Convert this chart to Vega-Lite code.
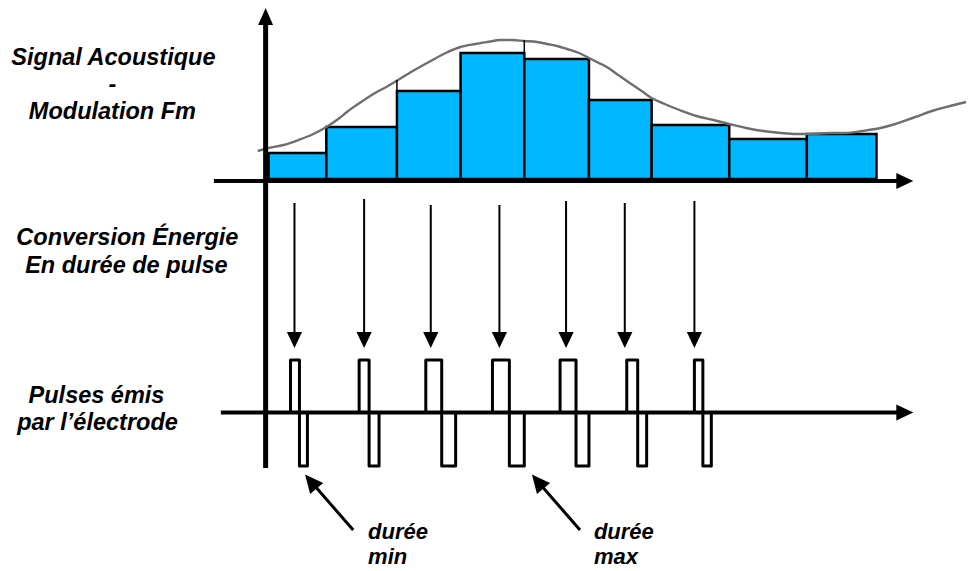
{
  "$schema": "https://vega.github.io/schema/vega-lite/v6.json",
  "width": 971,
  "height": 571,
  "autosize": {"type": "fit", "contains": "padding"},
  "padding": 0,
  "background": "white",
  "config": {"view": {"stroke": null}},
  "datasets": {
    "bars": [
      {"x": 270, "x2": 328, "y": 153, "y2": 179},
      {"x": 328, "x2": 399, "y": 127, "y2": 179},
      {"x": 399, "x2": 463, "y": 91, "y2": 179},
      {"x": 463, "x2": 527, "y": 53, "y2": 179},
      {"x": 527, "x2": 592, "y": 59, "y2": 179},
      {"x": 592, "x2": 655, "y": 100, "y2": 179},
      {"x": 655, "x2": 733, "y": 125, "y2": 179},
      {"x": 733, "x2": 811, "y": 139, "y2": 179},
      {"x": 811, "x2": 881, "y": 134, "y2": 179}
    ],
    "curve": [
      {"x": 259, "y": 151}, {"x": 270, "y": 148}, {"x": 285, "y": 145}, {"x": 300, "y": 140},
      {"x": 315, "y": 134}, {"x": 328, "y": 127}, {"x": 340, "y": 119}, {"x": 350, "y": 111},
      {"x": 363, "y": 102}, {"x": 377, "y": 93}, {"x": 390, "y": 86}, {"x": 400, "y": 80},
      {"x": 415, "y": 71}, {"x": 433, "y": 61}, {"x": 448, "y": 53}, {"x": 463, "y": 47},
      {"x": 478, "y": 44}, {"x": 490, "y": 42}, {"x": 503, "y": 40}, {"x": 515, "y": 40},
      {"x": 527, "y": 41}, {"x": 540, "y": 42}, {"x": 550, "y": 44}, {"x": 560, "y": 46},
      {"x": 570, "y": 49}, {"x": 582, "y": 53}, {"x": 592, "y": 58}, {"x": 600, "y": 62},
      {"x": 610, "y": 67}, {"x": 620, "y": 74}, {"x": 633, "y": 83}, {"x": 645, "y": 91},
      {"x": 655, "y": 98}, {"x": 668, "y": 104}, {"x": 683, "y": 110}, {"x": 700, "y": 116},
      {"x": 717, "y": 120}, {"x": 733, "y": 124}, {"x": 750, "y": 128}, {"x": 767, "y": 131},
      {"x": 785, "y": 133}, {"x": 800, "y": 134}, {"x": 815, "y": 134}, {"x": 833, "y": 133},
      {"x": 850, "y": 133}, {"x": 867, "y": 131}, {"x": 885, "y": 128}, {"x": 900, "y": 124},
      {"x": 920, "y": 117}, {"x": 940, "y": 110}, {"x": 955, "y": 106}, {"x": 971, "y": 102}
    ],
    "connectors": [
      {"x": 399, "y": 80, "y2": 91},
      {"x": 527, "y": 40, "y2": 53}
    ],
    "vaxis": [{"x": 267, "y": 22, "y2": 468}],
    "haxes": [
      {"x": 215, "x2": 904, "y": 181},
      {"x": 222, "x2": 904, "y": 412.5}
    ],
    "uphead": [{"x": 267, "y": 16.5}],
    "righthead": [{"x": 909.5, "y": 181}, {"x": 909.5, "y": 412.5}],
    "arrows": [
      {"x": 296, "y": 203, "y2": 334},
      {"x": 366, "y": 199, "y2": 334},
      {"x": 433, "y": 205, "y2": 334},
      {"x": 502, "y": 205, "y2": 334},
      {"x": 569, "y": 201, "y2": 334},
      {"x": 628, "y": 203, "y2": 334},
      {"x": 698, "y": 201, "y2": 334}
    ],
    "downhead": [
      {"x": 296, "y": 340}, {"x": 366, "y": 340}, {"x": 433, "y": 340}, {"x": 502, "y": 340},
      {"x": 569, "y": 340}, {"x": 628, "y": 340}, {"x": 698, "y": 340}
    ],
    "pulses": [
      {"p": 1, "i": 0, "x": 292, "y": 412.5}, {"p": 1, "i": 1, "x": 292, "y": 360}, {"p": 1, "i": 2, "x": 301, "y": 360},
      {"p": 1, "i": 3, "x": 301, "y": 466}, {"p": 1, "i": 4, "x": 309, "y": 466}, {"p": 1, "i": 5, "x": 309, "y": 412.5},
      {"p": 2, "i": 0, "x": 361, "y": 412.5}, {"p": 2, "i": 1, "x": 361, "y": 360}, {"p": 2, "i": 2, "x": 371, "y": 360},
      {"p": 2, "i": 3, "x": 371, "y": 466}, {"p": 2, "i": 4, "x": 381, "y": 466}, {"p": 2, "i": 5, "x": 381, "y": 412.5},
      {"p": 3, "i": 0, "x": 428, "y": 412.5}, {"p": 3, "i": 1, "x": 428, "y": 360}, {"p": 3, "i": 2, "x": 444, "y": 360},
      {"p": 3, "i": 3, "x": 444, "y": 466}, {"p": 3, "i": 4, "x": 458, "y": 466}, {"p": 3, "i": 5, "x": 458, "y": 412.5},
      {"p": 4, "i": 0, "x": 495, "y": 412.5}, {"p": 4, "i": 1, "x": 495, "y": 360}, {"p": 4, "i": 2, "x": 512, "y": 360},
      {"p": 4, "i": 3, "x": 512, "y": 466}, {"p": 4, "i": 4, "x": 527, "y": 466}, {"p": 4, "i": 5, "x": 527, "y": 412.5},
      {"p": 5, "i": 0, "x": 563, "y": 412.5}, {"p": 5, "i": 1, "x": 563, "y": 360}, {"p": 5, "i": 2, "x": 579, "y": 360},
      {"p": 5, "i": 3, "x": 579, "y": 466}, {"p": 5, "i": 4, "x": 592, "y": 466}, {"p": 5, "i": 5, "x": 592, "y": 412.5},
      {"p": 6, "i": 0, "x": 630, "y": 412.5}, {"p": 6, "i": 1, "x": 630, "y": 360}, {"p": 6, "i": 2, "x": 641, "y": 360},
      {"p": 6, "i": 3, "x": 641, "y": 466}, {"p": 6, "i": 4, "x": 650, "y": 466}, {"p": 6, "i": 5, "x": 650, "y": 412.5},
      {"p": 7, "i": 0, "x": 698, "y": 412.5}, {"p": 7, "i": 1, "x": 698, "y": 360}, {"p": 7, "i": 2, "x": 706.5, "y": 360},
      {"p": 7, "i": 3, "x": 706.5, "y": 466}, {"p": 7, "i": 4, "x": 715, "y": 466}, {"p": 7, "i": 5, "x": 715, "y": 412.5}
    ],
    "annot": [
      {"x": 355, "y": 530, "x2": 313, "y2": 482},
      {"x": 583, "y": 530, "x2": 541, "y2": 482}
    ],
    "annothead": [{"x": 312.5, "y": 481.5}, {"x": 540.5, "y": 481.5}],
    "labels": [
      {"x": 114, "y": 64.5, "label": "Signal Acoustique"},
      {"x": 113, "y": 92, "label": "-"},
      {"x": 113, "y": 119, "label": "Modulation Fm"},
      {"x": 128, "y": 245, "label": "Conversion Énergie"},
      {"x": 127, "y": 273, "label": "En durée de pulse"},
      {"x": 97, "y": 403, "label": "Pulses émis"},
      {"x": 98, "y": 430, "label": "par l’électrode"}
    ],
    "notes": [
      {"x": 370, "y": 539, "label": "durée"},
      {"x": 370, "y": 564, "label": "min"},
      {"x": 597, "y": 539, "label": "durée"},
      {"x": 597, "y": 564, "label": "max"}
    ]
  },
  "layer": [
    {
      "data": {"name": "bars"},
      "mark": {"type": "rect", "fill": "#00B8FF", "stroke": "black", "strokeWidth": 2.5},
      "encoding": {
        "x": {"field": "x", "type": "quantitative", "scale": {"domain": [0, 971], "nice": false, "zero": false}, "axis": null},
        "x2": {"field": "x2"},
        "y": {"field": "y", "type": "quantitative", "scale": {"domain": [0, 571], "nice": false, "zero": false, "reverse": true}, "axis": null},
        "y2": {"field": "y2"}
      }
    },
    {
      "data": {"name": "curve"},
      "mark": {"type": "line", "color": "#6e6e6e", "strokeWidth": 2.4, "interpolate": "monotone"},
      "encoding": {
        "x": {"field": "x", "type": "quantitative"},
        "y": {"field": "y", "type": "quantitative"}
      }
    },
    {
      "data": {"name": "connectors"},
      "mark": {"type": "rule", "color": "black", "strokeWidth": 1.5},
      "encoding": {
        "x": {"field": "x", "type": "quantitative"},
        "y": {"field": "y", "type": "quantitative"},
        "y2": {"field": "y2"}
      }
    },
    {
      "data": {"name": "vaxis"},
      "mark": {"type": "rule", "color": "black", "strokeWidth": 5},
      "encoding": {
        "x": {"field": "x", "type": "quantitative"},
        "y": {"field": "y", "type": "quantitative"},
        "y2": {"field": "y2"}
      }
    },
    {
      "data": {"name": "haxes"},
      "mark": {"type": "rule", "color": "black", "strokeWidth": 4},
      "encoding": {
        "x": {"field": "x", "type": "quantitative"},
        "x2": {"field": "x2"},
        "y": {"field": "y", "type": "quantitative"}
      }
    },
    {
      "data": {"name": "uphead"},
      "mark": {"type": "point", "shape": "M 0 -1 L 0.88 1 L -0.88 1 Z", "size": 289, "filled": true, "color": "black", "opacity": 1},
      "encoding": {
        "x": {"field": "x", "type": "quantitative"},
        "y": {"field": "y", "type": "quantitative"}
      }
    },
    {
      "data": {"name": "righthead"},
      "mark": {"type": "point", "shape": "M 0 -1 L 0.95 1 L -0.95 1 Z", "angle": 90, "size": 289, "filled": true, "color": "black", "opacity": 1},
      "encoding": {
        "x": {"field": "x", "type": "quantitative"},
        "y": {"field": "y", "type": "quantitative"}
      }
    },
    {
      "data": {"name": "arrows"},
      "mark": {"type": "rule", "color": "black", "strokeWidth": 2},
      "encoding": {
        "x": {"field": "x", "type": "quantitative"},
        "y": {"field": "y", "type": "quantitative"},
        "y2": {"field": "y2"}
      }
    },
    {
      "data": {"name": "downhead"},
      "mark": {"type": "point", "shape": "M 0 -1 L 0.95 1 L -0.95 1 Z", "angle": 180, "size": 256, "filled": true, "color": "black", "opacity": 1},
      "encoding": {
        "x": {"field": "x", "type": "quantitative"},
        "y": {"field": "y", "type": "quantitative"}
      }
    },
    {
      "data": {"name": "pulses"},
      "mark": {"type": "line", "color": "black", "strokeWidth": 3, "strokeJoin": "round"},
      "encoding": {
        "x": {"field": "x", "type": "quantitative"},
        "y": {"field": "y", "type": "quantitative"},
        "detail": {"field": "p", "type": "nominal"},
        "order": {"field": "i", "type": "quantitative"}
      }
    },
    {
      "data": {"name": "annot"},
      "mark": {"type": "rule", "color": "black", "strokeWidth": 3},
      "encoding": {
        "x": {"field": "x", "type": "quantitative"},
        "y": {"field": "y", "type": "quantitative"},
        "x2": {"field": "x2"},
        "y2": {"field": "y2"}
      }
    },
    {
      "data": {"name": "annothead"},
      "mark": {"type": "point", "shape": "M 0 -1 L 0.95 1 L -0.95 1 Z", "angle": -40, "size": 324, "filled": true, "color": "black", "opacity": 1},
      "encoding": {
        "x": {"field": "x", "type": "quantitative"},
        "y": {"field": "y", "type": "quantitative"}
      }
    },
    {
      "data": {"name": "labels"},
      "mark": {"type": "text", "font": "Liberation Sans", "fontSize": 23.5, "fontWeight": "bold", "fontStyle": "italic", "align": "center", "baseline": "alphabetic", "color": "black"},
      "encoding": {
        "x": {"field": "x", "type": "quantitative"},
        "y": {"field": "y", "type": "quantitative"},
        "text": {"field": "label"}
      }
    },
    {
      "data": {"name": "notes"},
      "mark": {"type": "text", "font": "Liberation Sans", "fontSize": 22, "fontWeight": "bold", "fontStyle": "italic", "align": "left", "baseline": "alphabetic", "color": "black"},
      "encoding": {
        "x": {"field": "x", "type": "quantitative"},
        "y": {"field": "y", "type": "quantitative"},
        "text": {"field": "label"}
      }
    }
  ]
}
